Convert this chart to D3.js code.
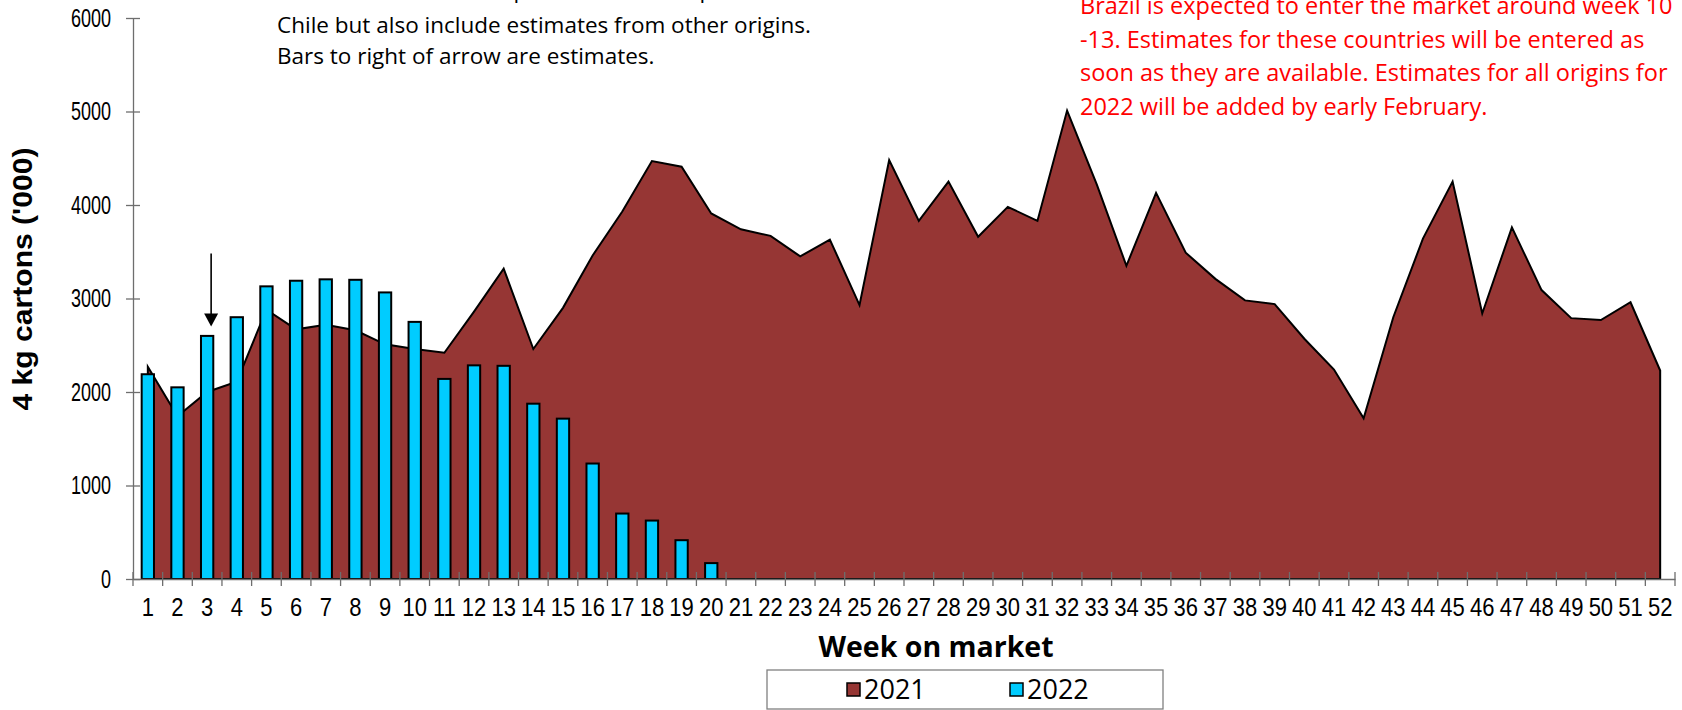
<!DOCTYPE html>
<html>
<head>
<meta charset="utf-8">
<script src="https://cdn.jsdelivr.net/npm/d3@7/dist/d3.min.js"></script>
<style>
    html, body { margin: 0; padding: 0; background: #fff; overflow: hidden; }
    svg { display: block; }
</style>
</head>
<body>
<div id="chart"></div>
<script>
const weeks = d3.range(1, 53);
const shipments2021 = [2270, 1740, 2000, 2110, 2880, 2670, 2720, 2660, 2510, 2460,
    2420, 2860, 3320, 2460, 2900, 3460, 3930, 4470, 4410, 3910,
    3740, 3670, 3450, 3630, 2930, 4480, 3830, 4250, 3660, 3980,
    3830, 5010, 4220, 3350, 4130, 3490, 3210, 2980, 2940, 2570,
    2240, 1720, 2800, 3640, 4250, 2840, 3760, 3090, 2790, 2770,
    2960, 2230];
const shipments2022 = [2190, 2050, 2600, 2800, 3130, 3190, 3205, 3200, 3065, 2750,
    2140, 2285, 2280, 1875, 1715, 1235, 700, 625, 415, 170];
const yTicks = [0, 1000, 2000, 3000, 4000, 5000, 6000];
const seriesNames = ["2021", "2022"];
const seriesColors = ["#963634", "#00ccff"];
const arrowMark = {week: 3, top: 3480, tip: 2700};
const noteBlack = [
    "Bars to left of arrow represent actual shipments from",
    "Chile but also include estimates from other origins.",
    "Bars to right of arrow are estimates."
];
const noteRed = [
    "Brazil is expected to enter the market around week 10",
    "-13. Estimates for these countries will be entered as",
    "soon as they are available. Estimates for all origins for",
    "2022 will be added by early February."
];

const width = 1682, height = 710;
const axisFont = "'Liberation Sans', Arial, sans-serif";
const noteFont = "'Open Sans', sans-serif";

var svg = d3.select("#chart")
    .append("svg")
    .attr("width", width)
    .attr("height", height);

var x = d3.scaleBand()
    .domain(weeks)
    .range([133, 1675])
    .padding(0);

var y = d3.scaleLinear()
    .domain([0, 6000])
    .range([579, 18]);

var cx = function (w) { return x(w) + x.bandwidth() / 2; };

// 2021 area
var data2021 = weeks.map(function (w, i) { return {week: w, value: shipments2021[i]}; });
var area = d3.area()
    .x(function (d) { return cx(d.week); })
    .y0(y(0))
    .y1(function (d) { return y(d.value); });

svg.append("path")
    .datum(data2021)
    .attr("d", area)
    .attr("fill", seriesColors[0])
    .attr("stroke", "#000")
    .attr("stroke-width", 2)
    .attr("stroke-linejoin", "miter");

// 2022 bars
var barW = x.bandwidth() * 0.415;
svg.selectAll(".bar")
    .data(shipments2022)
    .enter()
    .append("rect")
    .attr("class", "bar")
    .attr("x", function (d, i) { return cx(weeks[i]) - barW / 2; })
    .attr("y", function (d) { return y(d); })
    .attr("width", barW)
    .attr("height", function (d) { return y(0) - y(d); })
    .attr("fill", seriesColors[1])
    .attr("stroke", "#000")
    .attr("stroke-width", 2);

// y axis
var yAxis = svg.append("g")
    .attr("transform", "translate(133,0)")
    .call(d3.axisLeft(y).tickValues(yTicks).tickFormat(d3.format("d")).tickSizeOuter(0).tickSizeInner(7).tickPadding(15));
yAxis.select(".domain").attr("stroke", "#6e6e6e").attr("stroke-width", 1.3);
yAxis.selectAll(".tick line").attr("x1", 7).attr("x2", -7).attr("stroke", "#6e6e6e").attr("stroke-width", 1.3);
yAxis.selectAll(".tick text")
    .attr("x", -22 / 0.72)
    .attr("transform", "scale(0.72,1)")
    .attr("font-family", axisFont)
    .attr("font-size", 25)
    .attr("fill", "#000");

// x axis, ticks between categories
var xAxis = svg.append("g")
    .attr("transform", "translate(0," + y(0) + ")")
    .call(d3.axisBottom(x).tickSizeOuter(0).tickSizeInner(7));
xAxis.select(".domain").attr("stroke", "#6e6e6e").attr("stroke-width", 1.3);
xAxis.selectAll(".tick line")
    .attr("x1", -x.bandwidth() / 2).attr("x2", -x.bandwidth() / 2)
    .attr("y1", -7).attr("y2", 7)
    .attr("stroke", "#6e6e6e").attr("stroke-width", 1.3);
xAxis.append("line")
    .attr("x1", x.range()[1]).attr("x2", x.range()[1])
    .attr("y1", -7).attr("y2", 7)
    .attr("stroke", "#6e6e6e").attr("stroke-width", 1.3);
xAxis.selectAll(".tick text")
    .attr("y", 19)
    .attr("transform", "scale(0.88,1)")
    .attr("font-family", axisFont)
    .attr("font-size", 25)
    .attr("fill", "#000");

// arrow marking where estimates begin
var ax = cx(arrowMark.week) + 4;
svg.append("line")
    .attr("x1", ax).attr("x2", ax)
    .attr("y1", y(arrowMark.top)).attr("y2", y(arrowMark.tip) - 10)
    .attr("stroke", "#000")
    .attr("stroke-width", 1.6);
svg.append("path")
    .attr("d", "M" + (ax - 7) + "," + (y(arrowMark.tip) - 13) + "L" + (ax + 7) + "," + (y(arrowMark.tip) - 13) + "L" + ax + "," + y(arrowMark.tip) + "Z")
    .attr("fill", "#000");

// axis titles
svg.append("text")
    .attr("transform", "translate(32,279) rotate(-90)")
    .attr("text-anchor", "middle")
    .attr("font-family", axisFont)
    .attr("font-weight", "bold")
    .attr("font-size", 28)
    .attr("textLength", 263)
    .attr("lengthAdjust", "spacingAndGlyphs")
    .text("4 kg cartons ('000)");

svg.append("text")
    .attr("x", 936)
    .attr("y", 657)
    .attr("text-anchor", "middle")
    .attr("font-family", noteFont)
    .attr("font-weight", "bold")
    .attr("font-size", 28.5)
    .text("Week on market");

// notes (first black line is mostly off the top edge, as in the source)
svg.selectAll(".note-black")
    .data(noteBlack)
    .enter()
    .append("text")
    .attr("class", "note-black")
    .attr("x", 277)
    .attr("y", function (d, i) { return i === 0 ? -2 : 1 + i * 31.5; })
    .attr("font-family", noteFont)
    .attr("font-size", 22.5)
    .attr("fill", "#000")
    .text(function (d) { return d; });

svg.selectAll(".note-red")
    .data(noteRed)
    .enter()
    .append("text")
    .attr("class", "note-red")
    .attr("x", 1080)
    .attr("y", function (d, i) { return 14 + i * 33.5; })
    .attr("font-family", noteFont)
    .attr("font-size", 23.5)
    .attr("fill", "#ff0000")
    .text(function (d) { return d; });

// legend
var legend = svg.append("g");
legend.append("rect")
    .attr("x", 767).attr("y", 670)
    .attr("width", 396).attr("height", 39)
    .attr("fill", "#fff")
    .attr("stroke", "#808080")
    .attr("stroke-width", 1.3);
var legendX = [847, 1010];
seriesNames.forEach(function (name, i) {
    legend.append("rect")
        .attr("x", legendX[i]).attr("y", 683)
        .attr("width", 13).attr("height", 13)
        .attr("fill", seriesColors[i])
        .attr("stroke", "#000")
        .attr("stroke-width", 1.5);
    legend.append("text")
        .attr("x", legendX[i] + 17)
        .attr("y", 699)
        .attr("font-family", noteFont)
        .attr("font-size", 27)
        .text(name);
});
</script>
</body>
</html>
